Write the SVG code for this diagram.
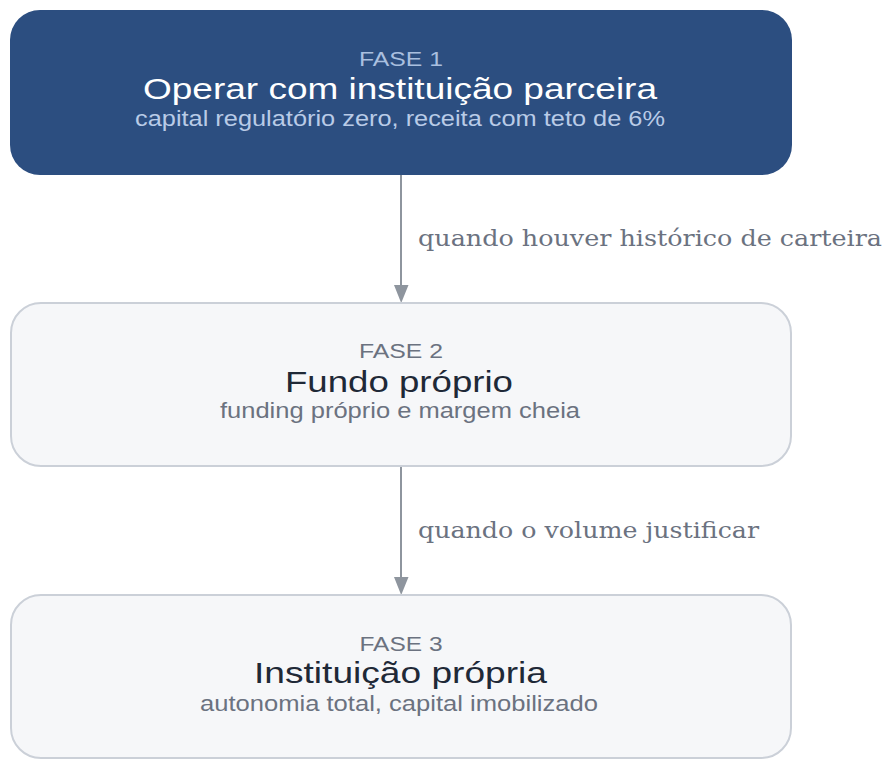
<svg xmlns="http://www.w3.org/2000/svg" width="896" height="769" viewBox="0 0 896 769">
<defs>
<style>
.sans{font-family:"Liberation Sans",Arial,sans-serif;text-anchor:middle}
.fase{font-size:20px}
.title{font-size:30px}
.sub{font-size:22px}
.lbl{font-family:"DejaVu Serif","Liberation Serif",serif;font-size:22px;fill:#6b7280}
.edge{stroke:#8e959e;stroke-width:2;fill:none}
.head{fill:#8e959e}
.light{fill:#f6f7f9;stroke:#cbd0d8;stroke-width:2}
</style>
</defs>
<rect width="896" height="769" fill="#ffffff"/>
<g id="connectors">
<line class="edge" x1="401" y1="175" x2="401" y2="287"/>
<polygon class="head" points="394,285 408.5,285 401.2,303"/>
<text class="lbl" x="418" y="246" textLength="464" lengthAdjust="spacingAndGlyphs">quando houver histórico de carteira</text>
<line class="edge" x1="401" y1="466" x2="401" y2="579"/>
<polygon class="head" points="394,577 408.5,577 401.2,595"/>
<text class="lbl" x="418" y="538" textLength="341" lengthAdjust="spacingAndGlyphs">quando o volume justificar</text>
</g>
<g id="fase1">
<rect x="10" y="10" width="782" height="165" rx="30" ry="30" fill="#2c4e80"/>
<text class="sans fase" x="401" y="65.5" fill="#a9bfdf" textLength="84" lengthAdjust="spacingAndGlyphs">FASE 1</text>
<text class="sans title" x="400" y="99" fill="#ffffff" textLength="514" lengthAdjust="spacingAndGlyphs">Operar com instituição parceira</text>
<text class="sans sub" x="400" y="125.5" fill="#b9cbe7" textLength="530" lengthAdjust="spacingAndGlyphs">capital regulatório zero, receita com teto de 6%</text>
</g>
<g id="fase2">
<rect class="light" x="11" y="303" width="780" height="163" rx="30" ry="30"/>
<text class="sans fase" x="401" y="358" fill="#6b7280" textLength="84" lengthAdjust="spacingAndGlyphs">FASE 2</text>
<text class="sans title" x="399" y="392" fill="#1f2937" textLength="228" lengthAdjust="spacingAndGlyphs">Fundo próprio</text>
<text class="sans sub" x="400" y="418" fill="#6b7280" textLength="360" lengthAdjust="spacingAndGlyphs">funding próprio e margem cheia</text>
</g>
<g id="fase3">
<rect class="light" x="11" y="595" width="780" height="163" rx="30" ry="30"/>
<text class="sans fase" x="401" y="651" fill="#6b7280" textLength="83" lengthAdjust="spacingAndGlyphs">FASE 3</text>
<text class="sans title" x="400.5" y="683" fill="#1f2937" textLength="293" lengthAdjust="spacingAndGlyphs">Instituição própria</text>
<text class="sans sub" x="399" y="711" fill="#6b7280" textLength="398" lengthAdjust="spacingAndGlyphs">autonomia total, capital imobilizado</text>
</g>
</svg>
